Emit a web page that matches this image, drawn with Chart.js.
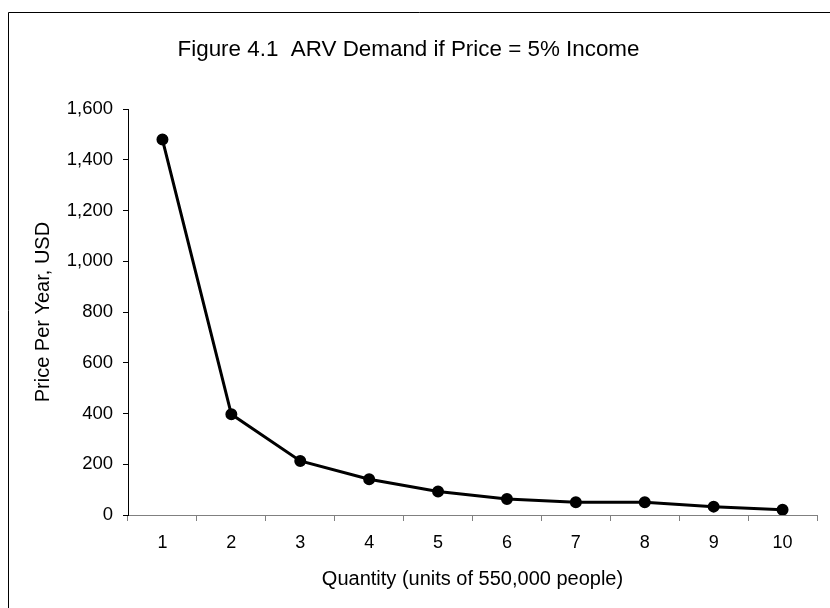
<!DOCTYPE html>
<html>
<head>
<meta charset="utf-8">
<script src="https://cdn.jsdelivr.net/npm/chart.js@4.4.1/dist/chart.umd.min.js"></script>
<style>
body{margin:0;background:#fff;}
</style>
</head>
<body>
<canvas id="demandChart" width="830" height="608"></canvas>
<script>
// values
const quantity=["1","2","3","4","5","6","7","8","9","10"];
const price=[1480,397,213,141,93,63,50,50,33,21];
const yTicks=[0,200,400,600,800,1000,1200,1400,1600];

const FONT="'Liberation Sans', Arial, sans-serif";

// the outer frame (only top and left edges show in the figure)
const frame={
id:"frame",
beforeDraw(chart){
let ctx=chart.ctx;
ctx.save();
ctx.fillStyle="#fff";
ctx.fillRect(0,0,chart.width,chart.height);
ctx.strokeStyle="#000";
ctx.lineWidth=1;
ctx.beginPath();
ctx.moveTo(8.5,chart.height);
ctx.lineTo(8.5,12.5);
ctx.lineTo(chart.width,12.5);
ctx.stroke();
ctx.restore();
}
};

new Chart(document.getElementById("demandChart"),{
type:"line",
data:{
labels:quantity,
datasets:[{
label:"Price",
data:price,
borderColor:"#000",
backgroundColor:"#000",
borderWidth:3,
pointRadius:4.5,
pointHoverRadius:4.5,
pointBackgroundColor:"#000",
pointBorderColor:"#000",
tension:0
}]
},
options:{
responsive:false,
animation:false,
layout:{padding:{left:0,right:13,top:0,bottom:0}},
plugins:{
legend:{display:false},
tooltip:{enabled:false},
title:{
display:true,
text:"Figure 4.1  ARV Demand if Price = 5% Income",
color:"#000",
font:{family:FONT,size:22.4,weight:"normal"},
padding:{top:36,bottom:46.3}
}
},
scales:{
x:{
offset:true,
afterFit(scale){scale.height=93;},
grid:{
display:true,
offset:true,
drawOnChartArea:false,
drawTicks:true,
tickLength:6,
color:"#808080"
},
border:{display:true,color:"#808080",width:1},
ticks:{color:"#000",font:{family:FONT,size:18},padding:11,maxRotation:0},
title:{
display:true,
text:"Quantity (units of 550,000 people)",
color:"#000",
font:{family:FONT,size:20},
padding:{top:0,bottom:17}
}
},
y:{
min:0,
max:1600,
afterFit(scale){scale.width=128;},
afterBuildTicks(scale){scale.ticks=yTicks.map(v=>({value:v}));},
grid:{
display:true,
drawOnChartArea:false,
drawTicks:true,
tickLength:5,
color:"#000"
},
border:{display:true,color:"#000",width:1},
ticks:{
color:"#000",
font:{family:FONT,size:18.5},
padding:10,
callback:v=>v.toLocaleString("en-US")
},
title:{
display:true,
text:"Price Per Year, USD",
color:"#000",
font:{family:FONT,size:20},
padding:{top:31,bottom:0}
}
}
}
},
plugins:[frame]
});
</script>
</body>
</html>
